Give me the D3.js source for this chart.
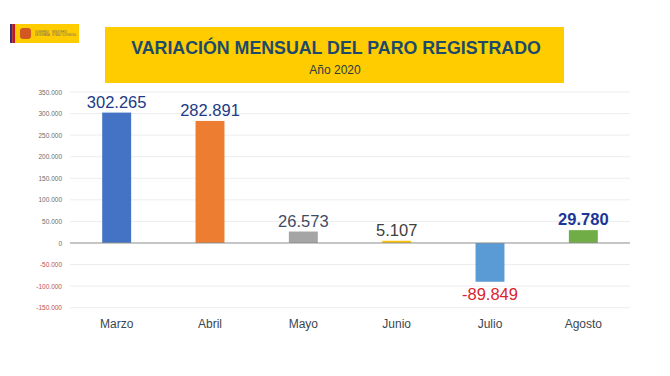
<!DOCTYPE html>
<html>
<head>
<meta charset="utf-8">
<style>
  body { margin: 0; background: #fff; }
  text { font-family: "Liberation Sans", Arial, sans-serif; }
</style>
</head>
<body>
<div id="viz"></div>
<script src="https://cdn.jsdelivr.net/npm/d3@7"></script>
<script>
  const months = ["Marzo", "Abril", "Mayo", "Junio", "Julio", "Agosto"];
  const values = [302265, 282891, 26573, 5107, -89849, 29780];
  const barColors = ["#4472C4", "#ED7D31", "#A5A5A5", "#FFC000", "#5B9BD5", "#70AD47"];
  const labelColors = ["#203a86", "#203a86", "#3f4d63", "#404040", "#d9242c", "#1c3696"];
  const yTicks = [350000, 300000, 250000, 200000, 150000, 100000, 50000, 0, -50000, -100000, -150000];

  const width = 670, height = 376;
  const svg = d3.select("#viz").append("svg")
      .attr("width", width)
      .attr("height", height);

  const fmt = d3.formatLocale({decimal: ",", thousands: ".", grouping: [3], currency: ["", ""], minus: "-"}).format(",d");

  // logo
  const logo = svg.append("g").attr("transform", "translate(10,24)");
  logo.append("rect").attr("width", 69).attr("height", 19).attr("fill", "#FFCC00");
  logo.append("rect").attr("width", 2.5).attr("height", 19).attr("fill", "#3b2a7a");
  logo.append("rect").attr("x", 2.5).attr("width", 2.5).attr("height", 19).attr("fill", "#c8102e");
  logo.append("rect").attr("x", 10).attr("y", 4).attr("width", 11).attr("height", 11).attr("rx", 3).attr("fill", "#c4302b").attr("opacity", 0.75);
  logo.append("text").attr("x", 25).attr("y", 9).attr("font-size", 2.6).attr("fill", "#666").text("GOBIERNO");
  logo.append("text").attr("x", 25).attr("y", 12).attr("font-size", 2.6).attr("fill", "#666").text("DE ESPAÑA");
  logo.append("text").attr("x", 42).attr("y", 9).attr("font-size", 2.6).attr("fill", "#666").text("MINISTERIO");
  logo.append("text").attr("x", 42).attr("y", 12).attr("font-size", 2.6).attr("fill", "#666")
      .attr("textLength", 24).attr("lengthAdjust", "spacingAndGlyphs")
      .text("DE TRABAJO Y ECONOMÍA SOCIAL");

  // title box
  svg.append("rect")
      .attr("x", 105).attr("y", 27)
      .attr("width", 459).attr("height", 56)
      .attr("fill", "#FFCC00");
  svg.append("text")
      .attr("x", 336).attr("y", 54)
      .attr("text-anchor", "middle")
      .attr("font-size", 17.8).attr("font-weight", "bold")
      .attr("fill", "#1d4a6b")
      .text("VARIACIÓN MENSUAL DEL PARO REGISTRADO");
  svg.append("text")
      .attr("x", 335).attr("y", 74)
      .attr("text-anchor", "middle")
      .attr("font-size", 12)
      .attr("fill", "#2a3a44")
      .text("Año 2020");

  const x = d3.scaleBand()
      .domain(months)
      .range([70, 630])
      .paddingInner(0.69)
      .paddingOuter(0.345);

  const y = d3.scaleLinear()
      .domain([-150000, 350000])
      .range([307.7, 92]);

  // grid
  svg.append("g").selectAll("line")
      .data(yTicks.filter(d => d !== 0))
    .enter().append("line")
      .attr("x1", 70).attr("x2", 630)
      .attr("y1", d => y(d)).attr("y2", d => y(d))
      .attr("stroke", "#ededed").attr("stroke-width", 1);

  // y axis labels
  const yAxis = svg.append("g")
      .attr("transform", "translate(62,0)")
      .call(d3.axisLeft(y).tickValues(yTicks).tickFormat(fmt).tickSize(0).tickPadding(0));
  yAxis.select(".domain").remove();
  yAxis.selectAll("text")
      .attr("font-size", 6.5)
      .attr("font-family", "Liberation Sans, Arial, sans-serif")
      .attr("fill", d => d < 0 ? "#c0504d" : "#6b6b6b");

  // bars
  svg.append("g").selectAll("rect")
      .data(values)
    .enter().append("rect")
      .attr("x", (d, i) => x(months[i]))
      .attr("y", d => y(Math.max(0, d)))
      .attr("width", x.bandwidth())
      .attr("height", d => Math.abs(y(d) - y(0)))
      .attr("fill", (d, i) => barColors[i]);

  // zero line
  svg.append("line")
      .attr("x1", 70).attr("x2", 630)
      .attr("y1", y(0)).attr("y2", y(0))
      .attr("stroke", "#8c8c8c").attr("stroke-width", 1);

  // value labels
  svg.append("g").selectAll("text")
      .data(values)
    .enter().append("text")
      .attr("x", (d, i) => x(months[i]) + x.bandwidth() / 2)
      .attr("y", d => d >= 0 ? y(d) - 5 : y(d) + 18)
      .attr("text-anchor", "middle")
      .attr("font-size", 16.5)
      .attr("font-weight", (d, i) => i === 5 ? "bold" : "normal")
      .attr("fill", (d, i) => labelColors[i])
      .text(d => fmt(d));

  // x labels
  svg.append("g").selectAll("text")
      .data(months)
    .enter().append("text")
      .attr("x", d => x(d) + x.bandwidth() / 2)
      .attr("y", 328)
      .attr("text-anchor", "middle")
      .attr("font-size", 12)
      .attr("fill", "#3c4650")
      .text(d => d);
</script>
</body>
</html>
